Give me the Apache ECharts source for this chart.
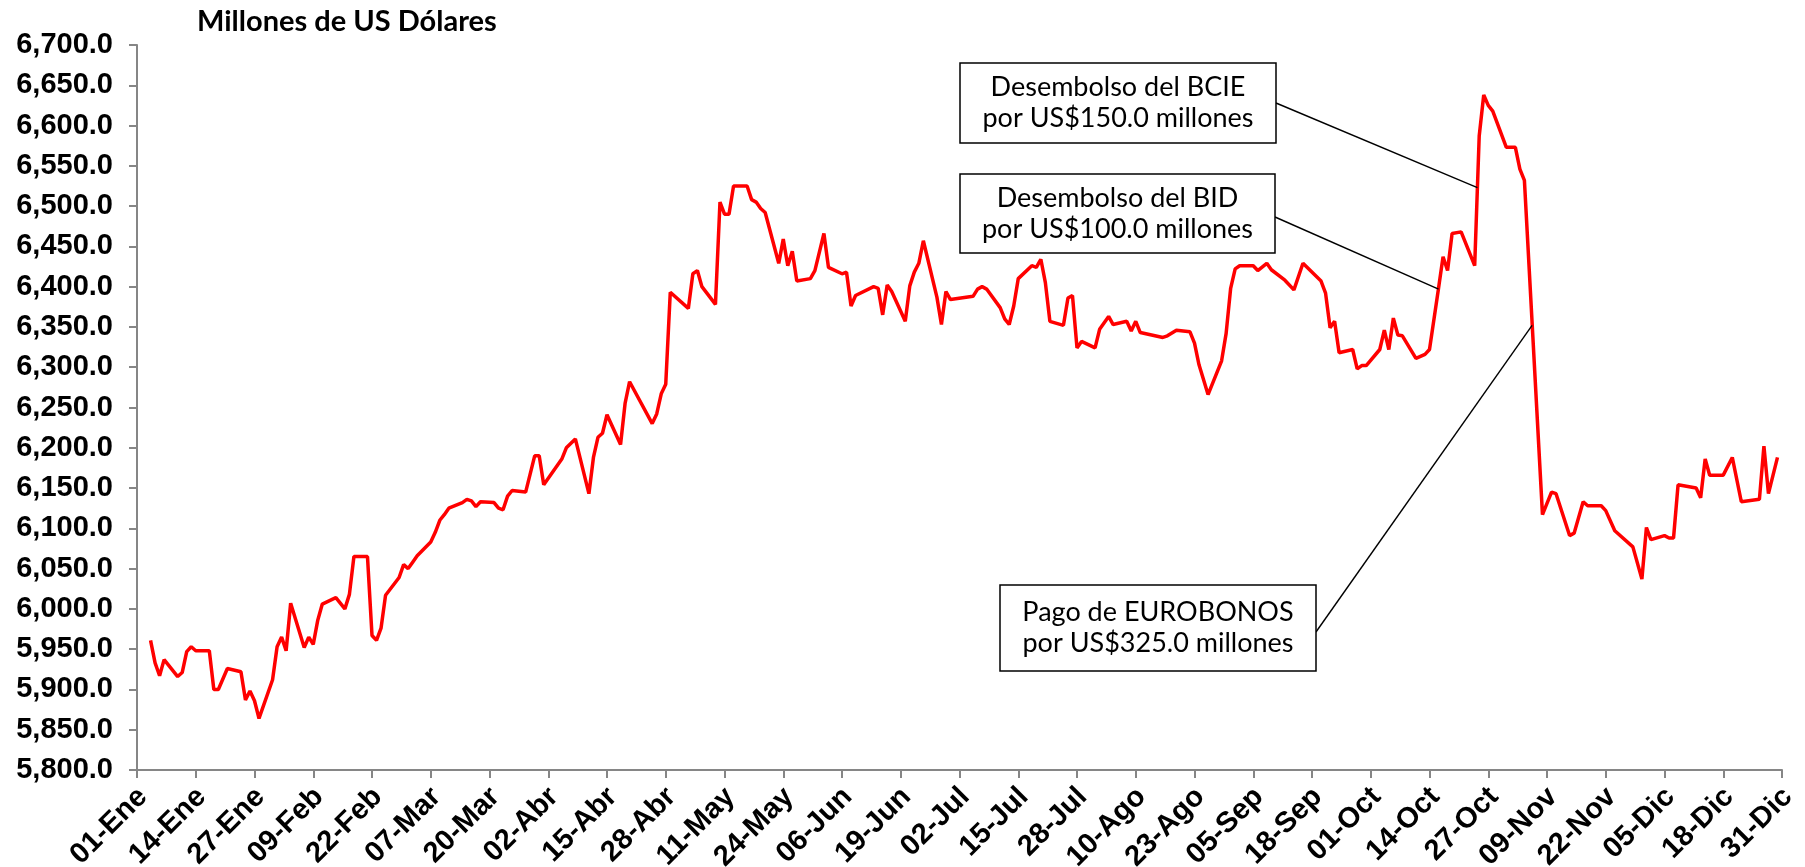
<!DOCTYPE html>
<html>
<head>
<meta charset="utf-8">
<script src="https://cdn.jsdelivr.net/npm/echarts@6/dist/echarts.min.js"></script>
<style>
	html, body { margin: 0; padding: 0; background: #fff; }
	#chart { width: 1805px; height: 867px; }
</style>
</head>
<body>
<div id="chart"></div>
<script>
// meses del año (2011)
var meses = ['Ene', 'Feb', 'Mar', 'Abr', 'May', 'Jun', 'Jul', 'Ago', 'Sep', 'Oct', 'Nov', 'Dic'];
var diasMes = [31, 28, 31, 30, 31, 30, 31, 31, 30, 31, 30, 31];

// fechas con dato
var fechas = [
	'04-Ene', '05-Ene', '06-Ene', '07-Ene', '10-Ene', '11-Ene', '12-Ene', '13-Ene', '14-Ene', '17-Ene',
	'18-Ene', '19-Ene', '21-Ene', '24-Ene', '25-Ene', '26-Ene', '27-Ene', '28-Ene', '31-Ene',
	'01-Feb', '02-Feb', '03-Feb', '04-Feb', '07-Feb', '08-Feb', '09-Feb', '10-Feb', '11-Feb', '14-Feb',
	'16-Feb', '17-Feb', '18-Feb', '21-Feb', '22-Feb', '23-Feb', '24-Feb', '25-Feb', '28-Feb',
	'01-Mar', '02-Mar', '03-Mar', '04-Mar', '07-Mar', '08-Mar', '09-Mar', '10-Mar', '11-Mar', '14-Mar',
	'15-Mar', '16-Mar', '17-Mar', '18-Mar', '21-Mar', '22-Mar', '23-Mar', '24-Mar', '25-Mar', '28-Mar',
	'30-Mar', '31-Mar',
	'01-Abr', '05-Abr', '06-Abr', '08-Abr', '11-Abr', '12-Abr', '13-Abr', '14-Abr', '15-Abr', '18-Abr',
	'19-Abr', '20-Abr', '25-Abr', '26-Abr', '27-Abr', '28-Abr', '29-Abr',
	'03-May', '04-May', '05-May', '06-May', '09-May', '10-May', '11-May', '12-May', '13-May', '16-May',
	'17-May', '18-May', '19-May', '20-May', '23-May', '24-May', '25-May', '26-May', '27-May', '30-May',
	'31-May',
	'02-Jun', '03-Jun', '06-Jun', '07-Jun', '08-Jun', '09-Jun', '13-Jun', '14-Jun', '15-Jun', '16-Jun',
	'17-Jun', '20-Jun', '21-Jun', '22-Jun', '23-Jun', '24-Jun', '27-Jun', '28-Jun', '29-Jun', '30-Jun',
	'05-Jul', '06-Jul', '07-Jul', '08-Jul', '11-Jul', '12-Jul', '13-Jul', '14-Jul', '15-Jul', '18-Jul',
	'19-Jul', '20-Jul', '21-Jul', '22-Jul', '25-Jul', '26-Jul', '27-Jul', '28-Jul', '29-Jul',
	'01-Ago', '02-Ago', '04-Ago', '05-Ago', '08-Ago', '09-Ago', '10-Ago', '11-Ago', '16-Ago', '17-Ago',
	'19-Ago', '22-Ago', '23-Ago', '24-Ago', '26-Ago', '29-Ago', '30-Ago', '31-Ago',
	'01-Sep', '02-Sep', '05-Sep', '06-Sep', '08-Sep', '09-Sep', '12-Sep', '14-Sep', '16-Sep', '20-Sep',
	'21-Sep', '22-Sep', '23-Sep', '24-Sep', '27-Sep', '28-Sep', '29-Sep', '30-Sep',
	'03-Oct', '04-Oct', '05-Oct', '06-Oct', '07-Oct', '08-Oct', '11-Oct', '13-Oct', '14-Oct', '16-Oct',
	'17-Oct', '18-Oct', '19-Oct', '21-Oct', '24-Oct', '25-Oct', '26-Oct', '27-Oct', '28-Oct', '31-Oct',
	'02-Nov', '03-Nov', '04-Nov', '08-Nov', '10-Nov', '11-Nov', '14-Nov', '15-Nov', '17-Nov', '18-Nov',
	'21-Nov', '22-Nov', '24-Nov', '28-Nov', '30-Nov',
	'01-Dic', '02-Dic', '05-Dic', '06-Dic', '07-Dic', '08-Dic', '12-Dic', '13-Dic', '14-Dic', '15-Dic',
	'18-Dic', '20-Dic', '22-Dic', '26-Dic', '27-Dic', '28-Dic', '30-Dic'
];

// reservas internacionales, millones de US$
var reservas = [
	5961, 5933, 5917, 5937, 5916, 5921, 5947, 5953, 5948, 5948,
	5900, 5900, 5926, 5922, 5887, 5898, 5886, 5864, 5912,
	5953, 5965, 5948, 6007, 5952, 5965, 5956, 5986, 6006, 6014,
	6000, 6018, 6065, 6065, 5967, 5961, 5976, 6017, 6039,
	6055, 6050, 6058, 6066, 6083, 6095, 6110, 6117, 6125, 6132,
	6136, 6134, 6127, 6133, 6132, 6125, 6123, 6140, 6147, 6145,
	6190, 6190,
	6154, 6186, 6200, 6211, 6143, 6188, 6213, 6218, 6241, 6204,
	6255, 6282, 6230, 6242, 6267, 6279, 6393,
	6373, 6416, 6420, 6400, 6378, 6505, 6490, 6490, 6525, 6525,
	6508, 6505, 6497, 6492, 6429, 6459, 6426, 6444, 6407, 6410,
	6420,
	6466, 6424, 6416, 6418, 6376, 6389, 6400, 6398, 6365, 6402,
	6394, 6357, 6401, 6418, 6429, 6457, 6387, 6353, 6394, 6384,
	6388, 6397, 6400, 6397, 6374, 6360, 6353, 6376, 6410, 6426,
	6424, 6434, 6405, 6357, 6352, 6386, 6389, 6324, 6332,
	6324, 6347, 6363, 6353, 6357, 6345, 6357, 6343, 6337, 6339,
	6346, 6344, 6330, 6303, 6266, 6308, 6342, 6398,
	6422, 6426, 6426, 6420, 6429, 6421, 6408, 6396, 6429, 6407,
	6392, 6349, 6357, 6318, 6322, 6298, 6302, 6302,
	6322, 6346, 6322, 6361, 6340, 6339, 6311, 6316, 6322, 6398,
	6437, 6420, 6466, 6468, 6426, 6587, 6638, 6625, 6618, 6573,
	6573, 6546, 6532, 6117, 6145, 6143, 6091, 6094, 6133, 6128,
	6128, 6122, 6097, 6077, 6037,
	6101, 6086, 6091, 6088, 6088, 6154, 6150, 6138, 6186, 6166,
	6166, 6188, 6133, 6136, 6202, 6143, 6188
];

// notas del gráfico: texto y punto de la serie al que apuntan
var notasTexto = [
	['Desembolso del BCIE', 'por US$150.0 millones'],
	['Desembolso del BID', 'por US$100.0 millones'],
	['Pago de EUROBONOS', 'por US$325.0 millones']
];
var notasFecha = ['24-Oct', '16-Oct', '04-Nov'];
var notasFraccion = [0.6, 0, 1.7];
var notasValor = [6523, 6397, 6352];

var yMin = 5800, yMax = 6700, yPaso = 50;

//todos los días del año como categorías
var dias = [];
for(var m = 0; m < 12; m++) {
	for(var d = 1; d <= diasMes[m]; d++) {
		dias.push((d < 10 ? '0' + d : '' + d) + '-' + meses[m]);
	}
}

//serie diaria, null en días sin dato
var serie = [];
for(var i = 0; i < dias.length; i++) serie.push(null);
for(var k = 0; k < fechas.length; k++) {
	serie[dias.indexOf(fechas[k])] = reservas[k];
}

function formato(v) {
	var s = v.toFixed(1);
	return s.replace(/^(\d)(\d{3})/, '$1,$2');
}

var myChart = echarts.init(document.getElementById('chart'));

var option = {
	animation: false,
	backgroundColor: '#fff',
	title: {
		text: 'Millones de US Dólares',
		left: 192,
		top: 2,
		textStyle: {
			fontFamily: 'Lato',
			fontWeight: 'bold',
			fontSize: 29,
			color: '#000'
		}
	},
	grid: {
		left: 137,
		right: 23,
		top: 45,
		bottom: 97,
		outerBoundsMode: 'none'
	},
	xAxis: {
		type: 'category',
		data: dias,
		boundaryGap: false,
		axisLine: { lineStyle: { color: '#868686', width: 2 } },
		axisTick: { interval: 12, length: 8, lineStyle: { color: '#868686', width: 2 } },
		axisLabel: {
			interval: 12,
			rotate: 45,
			margin: 28,
			padding: [0, -8, 0, 0],
			color: '#000',
			fontFamily: 'Liberation Sans',
			fontWeight: 'bold',
			fontSize: 29
		},
		splitLine: { show: false }
	},
	yAxis: {
		type: 'value',
		min: yMin,
		max: yMax,
		interval: yPaso,
		axisLine: { show: true, lineStyle: { color: '#868686', width: 2 } },
		axisTick: { show: true, length: 8, lineStyle: { color: '#868686', width: 2 } },
		axisLabel: {
			margin: 24,
			color: '#000',
			fontFamily: 'Liberation Sans',
			fontWeight: 'bold',
			fontSize: 29,
			formatter: formato
		},
		splitLine: { show: false }
	},
	series: [{
		name: 'Reservas',
		type: 'line',
		data: serie,
		connectNulls: true,
		showSymbol: false,
		lineStyle: { color: '#ff0000', width: 3.5 },
		itemStyle: { color: '#ff0000' }
	}]
};
myChart.setOption(option);

//posición en pixeles de un punto (índice fraccionario) de la serie
function pixel(fecha, frac, valor) {
	var i0 = dias.indexOf(fecha);
	var p0 = myChart.convertToPixel({ xAxisIndex: 0, yAxisIndex: 0 }, [i0, valor]);
	var p1 = myChart.convertToPixel({ xAxisIndex: 0, yAxisIndex: 0 }, [i0 + 1, valor]);
	return [p0[0] + (p1[0] - p0[0]) * frac, p0[1]];
}

// cajas de las notas [x, y, ancho, alto] y salida de la línea
var cajas = [[960, 63, 316, 80], [960, 174, 315, 79], [1000, 585, 316, 86]];
var salidas = [[1276, 103], [1275, 217], [1316, 632]];

var graficos = [];
for(var n = 0; n < cajas.length; n++) {
	var c = cajas[n];
	var fin = pixel(notasFecha[n], notasFraccion[n], notasValor[n]);
	graficos.push({
		type: 'line',
		z: 100,
		shape: { x1: salidas[n][0], y1: salidas[n][1], x2: fin[0], y2: fin[1] },
		style: { stroke: '#000', lineWidth: 1.4 }
	});
	graficos.push({
		type: 'rect',
		z: 100,
		shape: { x: c[0], y: c[1], width: c[2], height: c[3] },
		style: { fill: '#fff', stroke: '#000', lineWidth: 1.5 }
	});
	graficos.push({
		type: 'text',
		z: 101,
		style: {
			text: notasTexto[n].join('\n'),
			x: c[0] + c[2] / 2,
			y: c[1] + c[3] / 2,
			align: 'center',
			verticalAlign: 'middle',
			lineHeight: 31,
			fontFamily: 'Lato',
			fontSize: 27,
			fill: '#000'
		}
	});
}
myChart.setOption({ graphic: graficos });
</script>
</body>
</html>
